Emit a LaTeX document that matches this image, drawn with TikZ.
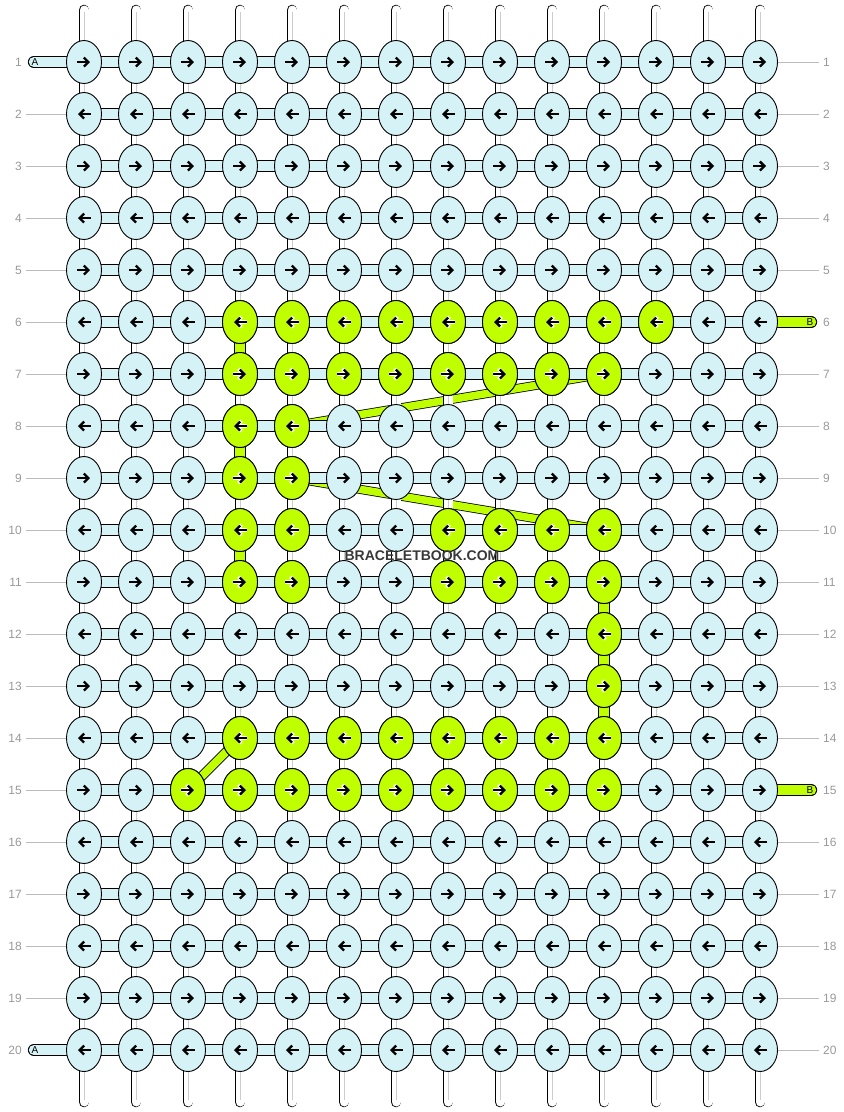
\documentclass[tikz,border=0pt]{standalone}
\usepackage{fontspec}
\setmainfont{Liberation Sans}
\usetikzlibrary{shapes.geometric,arrows.meta,backgrounds}

\definecolor{knotblue}{HTML}{D5F3F7}
\definecolor{knotgreen}{HTML}{BFFF00}
\definecolor{numgray}{HTML}{999999}
\definecolor{guidegray}{HTML}{BBBBBB}
\definecolor{midgray}{HTML}{CCCCCC}

\tikzstyle{knot} = [ellipse, draw, line width=0.9pt, fill=knotblue, minimum width=35pt, minimum height=43pt, inner sep=0pt]
\tikzstyle{gknot} = [knot, fill=knotgreen]
\tikzstyle{strand} = [draw=black, line width=0.8pt, double=white, double distance=9pt, line cap=round]
\tikzstyle{strandmid} = [draw=midgray, line width=0.9pt]
\tikzstyle{link} = [draw=black, line width=0.9pt, double=knotblue, double distance=10.5pt, line cap=round]
\tikzstyle{glink} = [link, double=knotgreen]
\tikzstyle{carry} = [draw=black, line width=0.8pt, double=knotgreen, double distance=7.5pt]
\tikzstyle{rownum} = [text=numgray, font=\fontsize{12}{12}\selectfont, inner sep=4pt]
\tikzstyle{guide} = [draw=guidegray, line width=0.9pt]
\tikzstyle{dir} = [line width=2.3pt, -{Straight Barb[length=4.5pt,width=9pt]}]
\tikzstyle{dirhalo} = [white, line width=3.6pt, -{Straight Barb[length=5pt,width=10.5pt]}]
\tikzstyle{tailtext} = [inner sep=0pt, font=\fontsize{10}{10}\selectfont]
\tikzstyle{wmtext} = [inner sep=0pt, text=black!78, font=\bfseries\fontsize{14}{14}\selectfont]

\begin{document}
\begin{tikzpicture}[x=1pt, y=-1pt]
\useasboundingbox (0,0) rectangle (844,1112);
% strand ends
\foreach \c in {1,...,14} {
  \coordinate (top-\c) at ({32+52*\c},10);
  \coordinate (bot-\c) at ({32+52*\c},1102);
}
\coordinate (ta-1) at (34,62);
\coordinate (ta-20) at (34,1050);
\coordinate (tb-6) at (811,322);
\coordinate (tb-15) at (811,790);
% knots
\foreach \r in {1,...,20}
  \foreach \c in {1,...,14}
    \node [knot] (k-\r-\c) at ({32+52*\c},{10+52*\r}) {};
\foreach \r/\from/\to in {6/4/12, 7/4/11, 8/4/5, 9/4/5, 10/4/5, 10/8/11, 11/4/5, 11/8/11, 12/11/11, 13/11/11, 14/4/11, 15/3/11}
  \foreach \c in {\from,...,\to} {
    \node [gknot] (g-\r-\c) at (k-\r-\c.center) {};
    \pgfmathtruncatemacro\s{isodd(\r) ? 1 : -1}
    \pgfmathtruncatemacro\xa{-7*\s}
    \pgfmathtruncatemacro\xb{6*\s}
    \draw [dirhalo] ([xshift=\xa pt]k-\r-\c.center) -- ([xshift=\xb pt]k-\r-\c.center);
  }
% arrows
\foreach \r in {1,...,20} {
  \pgfmathtruncatemacro\s{isodd(\r) ? 1 : -1}
  \pgfmathtruncatemacro\xa{-7*\s}
  \pgfmathtruncatemacro\xb{6*\s}
  \foreach \c in {1,...,14}
    \draw [dir] ([xshift=\xa pt]k-\r-\c.center) -- ([xshift=\xb pt]k-\r-\c.center);
}
% row numbers
\foreach \r in {1,...,20} {
  \node [rownum, anchor=east] (ln-\r) at (26,{10+52*\r}) {\r};
  \node [rownum, anchor=west] (rn-\r) at (819,{10+52*\r}) {\r};
}
\foreach \r in {2,...,19}
  \draw [guide] (ln-\r.east) -- (k-\r-1.west);
\foreach \r in {1,...,5,7,8,...,14,16,17,...,20}
  \draw [guide] (k-\r-14.east) -- (rn-\r.west);
\node [tailtext] (la-1) at (35,62) {A};
\node [tailtext] (la-20) at (35,1050) {A};
\node [tailtext] (lb-6) at (810,322) {B};
\node [tailtext] (lb-15) at (810,790) {B};
% watermark
\node [wmtext] (wm) at (422,556) {BRACELETBOOK.COM};
% Paths
\begin{pgfonlayer}{background}
\draw [carry] (k-8-5.center) -- (k-7-11.center);
\draw [carry] (k-9-5.center) -- (k-10-11.center);
\foreach \c in {1,...,14} {
  \draw [strand] (top-\c) -- (bot-\c);
  \draw [strandmid] ([yshift=-2pt]top-\c) -- ([yshift=2pt]bot-\c);
}
\foreach \r in {2,...,19}
  \draw [link] (k-\r-1.center) -- (k-\r-14.center);
\draw [link] (ta-1) -- (k-1-14.center);
\draw [link] (ta-20) -- (k-20-14.center);
\draw [glink] (k-6-14.center) -- (tb-6);
\draw [glink] (k-15-14.center) -- (tb-15);
\foreach \r/\c in {6/4, 8/4, 10/4, 11/11, 12/11, 13/11} {
  \pgfmathtruncatemacro\n{\r+1}
  \draw [glink, line cap=butt] (k-\r-\c.center) -- (k-\n-\c.center);
}
\draw [carry, double distance=8pt] (k-15-3.center) -- (k-14-4.center);
\end{pgfonlayer}
\end{tikzpicture}
\end{document}
